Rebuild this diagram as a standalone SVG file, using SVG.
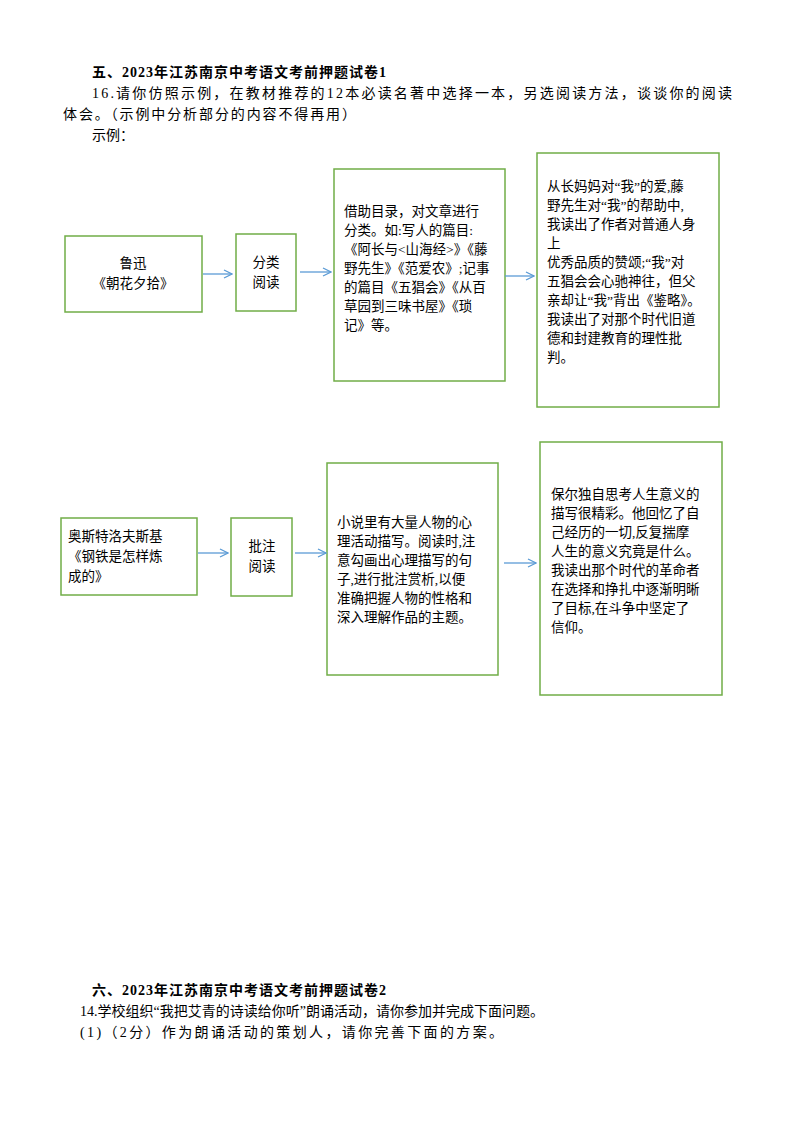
<svg xmlns="http://www.w3.org/2000/svg" width="794" height="1123" viewBox="0 0 794 1123">
<style>
text{font-family:"Liberation Serif","Noto Sans CJK SC",serif;font-size:14px;fill:#000}
.b{fill:#fff;stroke:#70ad47;stroke-width:1.5}
.t{font-size:13.5px}
.h{font-weight:bold}
.c{stroke:#5b9bd5;stroke-width:1.3;fill:none}
</style>
<defs><marker id="a" markerWidth="10" markerHeight="10" refX="9" refY="5" orient="auto" markerUnits="userSpaceOnUse"><path d="M1,1 L9,5 L1,9" fill="none" stroke="#5b9bd5" stroke-width="1.3"/></marker></defs>
<rect width="794" height="1123" fill="#fff"/>
<text x="92" y="77" class="h" textLength="294">五、2023年江苏南京中考语文考前押题试卷1</text>
<text x="92" y="98" textLength="640">16.请你仿照示例，在教材推荐的12本必读名著中选择一本，另选阅读方法，谈谈你的阅读</text>
<text x="63" y="119" textLength="293">体会。（示例中分析部分的内容不得再用）</text>
<text x="92" y="140">示例：</text>
<g id="n1"><rect class="b" x="65" y="236" width="137" height="76"/><text class="t" x="133" y="268" text-anchor="middle">鲁迅</text><text class="t" x="133" y="288" text-anchor="middle">《朝花夕拾》</text></g>
<g id="n2"><rect class="b" x="236" y="234" width="60" height="77"/><text class="t" x="266" y="267" text-anchor="middle">分类</text><text class="t" x="266" y="287" text-anchor="middle">阅读</text></g>
<g id="n3"><rect class="b" x="334" y="169" width="171" height="212"/>
<text class="t" x="344" y="216">借助目录，对文章进行</text><text class="t" x="344" y="235">分类。如:写人的篇目:</text><text class="t" x="344" y="254">《阿长与&lt;山海经&gt;》《藤</text><text class="t" x="344" y="273">野先生》《范爱农》;记事</text><text class="t" x="344" y="292">的篇目《五猖会》《从百</text><text class="t" x="344" y="311">草园到三味书屋》《琐</text><text class="t" x="344" y="330">记》等。</text></g>
<g id="n4"><rect class="b" x="537" y="153" width="182" height="254"/>
<text class="t" x="547" y="191">从长妈妈对“我”的爱,藤</text><text class="t" x="547" y="210">野先生对“我”的帮助中,</text><text class="t" x="547" y="229">我读出了作者对普通人身</text><text class="t" x="547" y="248">上</text><text class="t" x="547" y="267">优秀品质的赞颂;“我”对</text><text class="t" x="547" y="286">五猖会会心驰神往，但父</text><text class="t" x="547" y="305">亲却让“我”背出《鉴略》。</text><text class="t" x="547" y="324">我读出了对那个时代旧道</text><text class="t" x="547" y="343">德和封建教育的理性批</text><text class="t" x="547" y="362">判。</text></g>
<g id="m1"><rect class="b" x="61" y="518" width="136" height="77"/><text class="t" x="68" y="541">奥斯特洛夫斯基</text><text class="t" x="68" y="561">《钢铁是怎样炼</text><text class="t" x="68" y="581">成的》</text></g>
<g id="m2"><rect class="b" x="231" y="518" width="61" height="78"/><text class="t" x="262" y="551" text-anchor="middle">批注</text><text class="t" x="262" y="571" text-anchor="middle">阅读</text></g>
<g id="m3"><rect class="b" x="327" y="463" width="171" height="212"/>
<text class="t" x="337" y="527">小说里有大量人物的心</text><text class="t" x="337" y="546">理活动描写。阅读时,注</text><text class="t" x="337" y="565">意勾画出心理描写的句</text><text class="t" x="337" y="584">子,进行批注赏析,以便</text><text class="t" x="337" y="603">准确把握人物的性格和</text><text class="t" x="337" y="622">深入理解作品的主题。</text></g>
<g id="m4"><rect class="b" x="540" y="442" width="182" height="253"/>
<text class="t" x="551" y="499">保尔独自思考人生意义的</text><text class="t" x="551" y="518">描写很精彩。他回忆了自</text><text class="t" x="551" y="537">己经历的一切,反复揣摩</text><text class="t" x="551" y="556">人生的意义究竟是什么。</text><text class="t" x="551" y="575">我读出那个时代的革命者</text><text class="t" x="551" y="594">在选择和挣扎中逐渐明晰</text><text class="t" x="551" y="613">了目标,在斗争中坚定了</text><text class="t" x="551" y="632">信仰。</text></g>
<g id="connectors">
<path class="c" d="M203,274 H232" marker-end="url(#a)"/>
<path class="c" d="M300,272 H331" marker-end="url(#a)"/>
<path class="c" d="M505,276 H534" marker-end="url(#a)"/>
<path class="c" d="M198,553 H228" marker-end="url(#a)"/>
<path class="c" d="M295,553 H326" marker-end="url(#a)"/>
<path class="c" d="M504,563 H536" marker-end="url(#a)"/>
</g>
<text x="92" y="995" class="h" textLength="294">六、2023年江苏南京中考语文考前押题试卷2</text>
<text x="80" y="1016">14.学校组织“我把艾青的诗读给你听”朗诵活动，请你参加并完成下面问题。</text>
<text x="80" y="1037" textLength="423">(1)（2分）作为朗诵活动的策划人，请你完善下面的方案。</text>
</svg>
